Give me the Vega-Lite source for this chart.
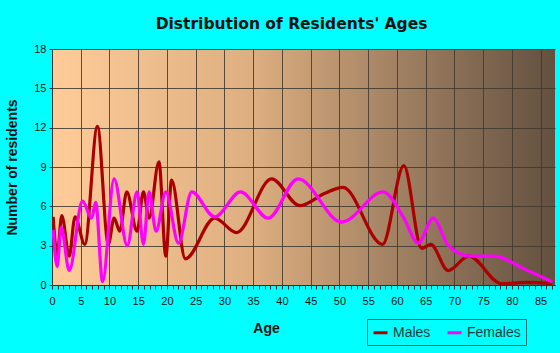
{
  "$schema": "https://vega.github.io/schema/vega-lite/v6.json",
  "width": 503,
  "height": 236,
  "autosize": {"type": "none"},
  "padding": {"left": 52, "top": 49, "right": 5, "bottom": 68},
  "background": "#00FFFF",
  "view": {
    "fill": {"gradient": "linear", "x1": 0, "y1": 0, "x2": 1, "y2": 0,
      "stops": [
        {"offset": 0, "color": "#FFCC99"},
        {"offset": 0.4, "color": "#DDAE80"},
        {"offset": 0.7, "color": "#9E7F61"},
        {"offset": 1, "color": "#635040"}
      ]},
    "stroke": null
  },
  "title": {
    "text": "Distribution of Residents' Ages",
    "font": "DejaVu Sans",
    "fontSize": 15.5,
    "fontWeight": "bold",
    "color": "#111111",
    "anchor": "middle",
    "dx": -12,
    "offset": 11
  },
  "datasets": {
    "ages": [
      {"age": 0.2, "n": 5.2, "sex": "Males"},
      {"age": 0.9, "n": 2.3, "sex": "Males"},
      {"age": 1.7, "n": 5.3, "sex": "Males"},
      {"age": 3.0, "n": 2.2, "sex": "Males"},
      {"age": 4.0, "n": 5.2, "sex": "Males"},
      {"age": 5.7, "n": 3.1, "sex": "Males"},
      {"age": 7.9, "n": 12.1, "sex": "Males"},
      {"age": 9.8, "n": 3.1, "sex": "Males"},
      {"age": 10.8, "n": 5.1, "sex": "Males"},
      {"age": 11.8, "n": 4.1, "sex": "Males"},
      {"age": 13.0, "n": 7.1, "sex": "Males"},
      {"age": 14.8, "n": 4.1, "sex": "Males"},
      {"age": 15.9, "n": 7.1, "sex": "Males"},
      {"age": 16.9, "n": 5.1, "sex": "Males"},
      {"age": 18.6, "n": 9.4, "sex": "Males"},
      {"age": 19.8, "n": 2.2, "sex": "Males"},
      {"age": 20.8, "n": 8.0, "sex": "Males"},
      {"age": 23.2, "n": 2.0, "sex": "Males"},
      {"age": 28.3, "n": 5.1, "sex": "Males"},
      {"age": 32.1, "n": 4.0, "sex": "Males"},
      {"age": 38.2, "n": 8.1, "sex": "Males"},
      {"age": 43.1, "n": 6.05, "sex": "Males"},
      {"age": 47.5, "n": 7.0, "sex": "Males"},
      {"age": 50.6, "n": 7.45, "sex": "Males"},
      {"age": 57.5, "n": 3.1, "sex": "Males"},
      {"age": 61.2, "n": 9.1, "sex": "Males"},
      {"age": 64.3, "n": 2.8, "sex": "Males"},
      {"age": 65.9, "n": 3.1, "sex": "Males"},
      {"age": 68.9, "n": 1.1, "sex": "Males"},
      {"age": 72.5, "n": 2.2, "sex": "Males"},
      {"age": 78.2, "n": 0.1, "sex": "Males"},
      {"age": 82.5, "n": 0.2, "sex": "Males"},
      {"age": 87.0, "n": 0.1, "sex": "Males"},
      {"age": 0.2, "n": 4.2, "sex": "Females"},
      {"age": 0.9, "n": 1.4, "sex": "Females"},
      {"age": 1.6, "n": 4.4, "sex": "Females"},
      {"age": 3.0, "n": 1.1, "sex": "Females"},
      {"age": 5.3, "n": 6.4, "sex": "Females"},
      {"age": 6.9, "n": 5.1, "sex": "Females"},
      {"age": 7.6, "n": 6.3, "sex": "Females"},
      {"age": 8.8, "n": 0.25, "sex": "Females"},
      {"age": 10.8, "n": 8.1, "sex": "Females"},
      {"age": 13.1, "n": 3.0, "sex": "Females"},
      {"age": 14.8, "n": 7.1, "sex": "Females"},
      {"age": 15.9, "n": 3.1, "sex": "Females"},
      {"age": 16.9, "n": 7.1, "sex": "Females"},
      {"age": 18.1, "n": 4.1, "sex": "Females"},
      {"age": 19.8, "n": 7.1, "sex": "Females"},
      {"age": 22.0, "n": 3.2, "sex": "Females"},
      {"age": 24.3, "n": 7.1, "sex": "Females"},
      {"age": 28.3, "n": 5.2, "sex": "Females"},
      {"age": 32.8, "n": 7.1, "sex": "Females"},
      {"age": 37.6, "n": 5.1, "sex": "Females"},
      {"age": 42.8, "n": 8.1, "sex": "Females"},
      {"age": 50.4, "n": 4.8, "sex": "Females"},
      {"age": 57.6, "n": 7.1, "sex": "Females"},
      {"age": 61.1, "n": 5.2, "sex": "Females"},
      {"age": 63.7, "n": 3.2, "sex": "Females"},
      {"age": 66.3, "n": 5.1, "sex": "Females"},
      {"age": 68.9, "n": 3.05, "sex": "Females"},
      {"age": 72.7, "n": 2.2, "sex": "Females"},
      {"age": 77.0, "n": 2.2, "sex": "Females"},
      {"age": 81.9, "n": 1.27, "sex": "Females"},
      {"age": 87.0, "n": 0.25, "sex": "Females"}
    ]
  },
  "data": {"name": "ages"},
  "mark": {"type": "line", "interpolate": "monotone", "strokeWidth": 3.2, "clip": true},
  "encoding": {
    "x": {
      "field": "age", "type": "quantitative",
      "scale": {"domain": [0, 87.5], "nice": false, "zero": false},
      "axis": {
        "title": "Age",
        "values": [0,1,2,3,4,5,6,7,8,9,10,11,12,13,14,15,16,17,18,19,20,21,22,23,24,25,26,27,28,29,30,31,32,33,34,35,36,37,38,39,40,41,42,43,44,45,46,47,48,49,50,51,52,53,54,55,56,57,58,59,60,61,62,63,64,65,66,67,68,69,70,71,72,73,74,75,76,77,78,79,80,81,82,83,84,85,86,87],
        "labelExpr": "datum.value % 5 === 0 ? datum.label : ''",
        "labelOverlap": false,
        "labelFlush": false,
        "grid": true,
        "gridColor": "#40382e",
        "gridOpacity": {"condition": {"test": "datum.value % 5 === 0 && datum.value > 0", "value": 0.85}, "value": 0},
        "gridWidth": 1,
        "tickSize": 4,
        "tickColor": "#333333",
        "domainColor": "#333333",
        "labelFont": "Liberation Sans",
        "labelFontSize": 11,
        "labelColor": "#111111",
        "labelPadding": 6,
        "titleFont": "Liberation Sans",
        "titleFontSize": 14,
        "titleFontWeight": "bold",
        "titleColor": "#111111",
        "titleX": 214,
        "titleY": 47,
        "titleBaseline": "alphabetic"
      }
    },
    "y": {
      "field": "n", "type": "quantitative",
      "scale": {"domain": [0, 18], "nice": false},
      "axis": {
        "title": "Number of residents",
        "values": [0, 3, 6, 9, 12, 15, 18],
        "grid": true,
        "gridColor": "#40382e",
        "gridOpacity": 0.85,
        "tickSize": 3,
        "tickColor": "#333333",
        "domainColor": "#333333",
        "labelFont": "Liberation Sans",
        "labelFontSize": 11,
        "labelColor": "#111111",
        "labelPadding": 3,
        "titleFont": "Liberation Sans",
        "titleFontSize": 14,
        "titleFontWeight": "bold",
        "titleColor": "#111111",
        "titleX": -33,
        "titleY": 118,
        "titleAngle": -90,
        "titleBaseline": "bottom"
      }
    },
    "color": {
      "field": "sex", "type": "nominal",
      "scale": {"domain": ["Males", "Females"], "range": ["#AA0000", "#FF00FF"]},
      "legend": {
        "title": null,
        "orient": "none",
        "legendX": 315,
        "legendY": 270,
        "direction": "horizontal",
        "symbolType": "stroke",
        "symbolSize": 196,
        "symbolStrokeWidth": 3,
        "labelFont": "Liberation Sans",
        "labelFontSize": 14,
        "labelColor": "#1a3a3a",
        "columnPadding": 10,
        "padding": 5,
        "strokeColor": "#007070",
        "fillColor": "#00FFFF"
      }
    }
  }
}
